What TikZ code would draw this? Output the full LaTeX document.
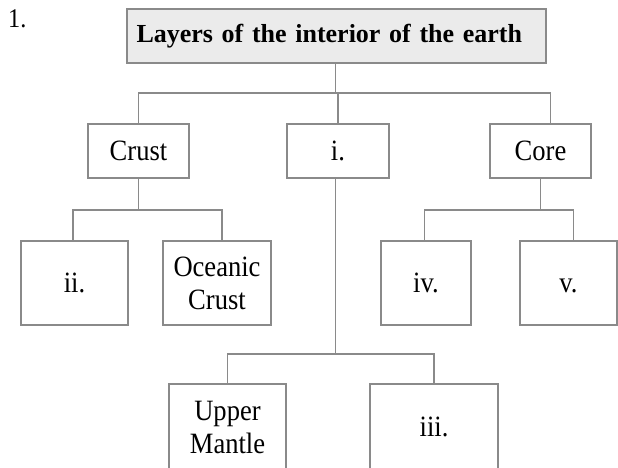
\documentclass[tikz,border=0pt]{standalone}
\usepackage{fontspec}
\setmainfont{Liberation Serif}
\newfontfamily\boxfont{Liberation Serif}[FakeStretch=0.9]
\definecolor{linegray}{HTML}{8A8A8A}
\definecolor{titlefill}{HTML}{EBEBEB}
\begin{document}
\begin{tikzpicture}[x=1pt,y=-1pt,
  box/.style={draw=linegray, line width=1.4pt, inner sep=0pt, align=center,
    font=\boxfont\fontsize{29.5}{33}\selectfont},
  conn/.style={draw=linegray, line width=1.4pt}]
\useasboundingbox (0,0) rectangle (618,467);
\node[anchor=north west, inner sep=0pt, font=\boxfont\fontsize{27}{30}\selectfont] (num) at (8,9) {1.};
% title
\node[box, fill=titlefill, minimum width=419pt, minimum height=54pt,
  text width=400pt, inner xsep=9.5pt, align=left,
  font=\bfseries\fontsize{26}{30}\selectfont] (title) at (336.5,36) {Layers of the interior of the earth};
% level 1
\node[box, minimum width=101pt, minimum height=54pt] (crust) at (138.5,151) {Crust};
\node[box, minimum width=102pt, minimum height=54pt] (mid) at (338,151) {i.};
\node[box, minimum width=101pt, minimum height=54pt] (core) at (540.5,151) {Core};
% level 2
\node[box, minimum width=107pt, minimum height=84pt] (ii) at (74.5,283) {ii.};
\node[box, minimum width=108pt, minimum height=84pt] (ocean) at (217,283) {Oceanic\\Crust};
\node[box, minimum width=90pt, minimum height=84pt] (iv) at (426,283) {iv.};
\node[box, minimum width=97pt, minimum height=84pt] (v) at (568.5,283) {\vphantom{i}v.};
% level 3
\node[box, minimum width=117pt, minimum height=86pt] (um) at (227.5,427) {Upper\\Mantle};
\node[box, minimum width=128pt, minimum height=86pt] (iii) at (434,427) {iii.};
% bus levels and offset attachment points
\coordinate (b1) at (0,93);
\coordinate (b2) at (0,210);
\coordinate (b3) at (0,354);
\coordinate (titlein) at ([xshift=-0.8pt]title.south);
\coordinate (corein) at ([xshift=10pt]core.north);
\coordinate (midout) at ([xshift=-2.3pt]mid.south);
\coordinate (iiin) at ([xshift=-1.5pt]ii.north);
\coordinate (oceanin) at ([xshift=5pt]ocean.north);
\coordinate (ivin) at ([xshift=-1.5pt]iv.north);
\coordinate (vin) at ([xshift=5pt]v.north);
% connectors
\draw[conn] (titlein) -- (titlein |- b1);
\draw[conn] (crust.north) -- (crust.north |- b1) -- (corein |- b1) -- (corein);
\draw[conn] (mid.north) -- (mid.north |- b1);
\draw[conn] (crust.south) -- (crust.south |- b2);
\draw[conn] (iiin) -- (iiin |- b2) -- (oceanin |- b2) -- (oceanin);
\draw[conn] (core.south) -- (core.south |- b2);
\draw[conn] (ivin) -- (ivin |- b2) -- (vin |- b2) -- (vin);
\draw[conn] (midout) -- (midout |- b3);
\draw[conn] (um.north) -- (um.north |- b3) -- (iii.north |- b3) -- (iii.north);
\end{tikzpicture}
\end{document}
